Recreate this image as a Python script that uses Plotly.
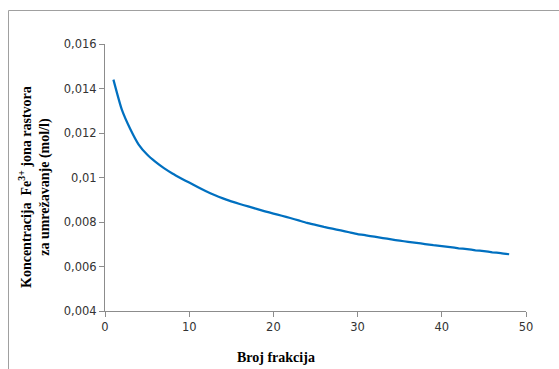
import plotly.graph_objects as go

# Data
broj_frakcija = list(range(1, 49))
koncentracija = [
    0.01440, 0.01305, 0.01218, 0.01148, 0.01103, 0.01070, 0.01042, 0.01018,
    0.00997, 0.00977, 0.00957, 0.00938, 0.00921, 0.00906, 0.00893, 0.00881,
    0.00870, 0.00859, 0.00848, 0.00838, 0.00828, 0.00818, 0.00807, 0.00796,
    0.00787, 0.00778, 0.00770, 0.00762, 0.00754, 0.00746, 0.00740, 0.00734,
    0.00728, 0.00722, 0.00716, 0.00711, 0.00706, 0.00701, 0.00696, 0.00692,
    0.00687, 0.00682, 0.00678, 0.00673, 0.00669, 0.00664, 0.00660, 0.00655,
]
y_tick_vals = [0.004, 0.006, 0.008, 0.010, 0.012, 0.014, 0.016]
y_tick_text = ["0,004", "0,006", "0,008", "0,01", "0,012", "0,014", "0,016"]
x_tick_vals = [0, 10, 20, 30, 40, 50]

W, H = 559, 369
L, R, T, B = 105, 33, 44, 58
pw, ph = W - L - R, H - T - B

def px(xp):
    return (xp - L) / pw

def py(yp):
    return (H - B - yp) / ph

fig = go.Figure()
fig.add_trace(go.Scatter(
    x=broj_frakcija, y=koncentracija, mode="lines",
    line=dict(color="#0070C0", width=2.25, shape="spline", smoothing=0.6),
    showlegend=False,
))

axis_common = dict(
    showgrid=False, zeroline=False, showline=True, linecolor="#8c8c8c",
    linewidth=1, ticks="outside", ticklen=5, tickcolor="#8c8c8c",
    tickfont=dict(family="DejaVu Sans", size=11.5, color="#333333"),
)
fig.update_xaxes(range=[0, 50], tickvals=x_tick_vals, **axis_common)
fig.update_yaxes(range=[0.004, 0.016], tickvals=y_tick_vals, ticktext=y_tick_text,
                 **axis_common)

title_font = dict(family="Liberation Serif", size=14, color="#000000")
fig.add_annotation(
    text="<b>Koncentracija  Fe<sup>3+</sup> jona rastvora</b><br><b>za umrežavanje (mol/l)</b>",
    xref="paper", yref="paper", x=px(34), y=py(187), textangle=-90,
    showarrow=False, font=title_font, xanchor="center", yanchor="middle",
)
fig.add_annotation(
    text="<b>Broj frakcija</b>", xref="paper", yref="paper",
    x=px(276), y=py(357), showarrow=False, font=title_font,
    xanchor="center", yanchor="middle",
)
fig.add_shape(
    type="rect", xref="paper", yref="paper",
    x0=px(8.5), y0=py(400), x1=px(600), y1=py(10.5),
    line=dict(color="#a0a0a0", width=1), layer="below",
)

fig.update_layout(
    width=W, height=H, margin=dict(l=L, r=R, t=T, b=B),
    paper_bgcolor="white", plot_bgcolor="white",
)
fig.write_html("out.html")
